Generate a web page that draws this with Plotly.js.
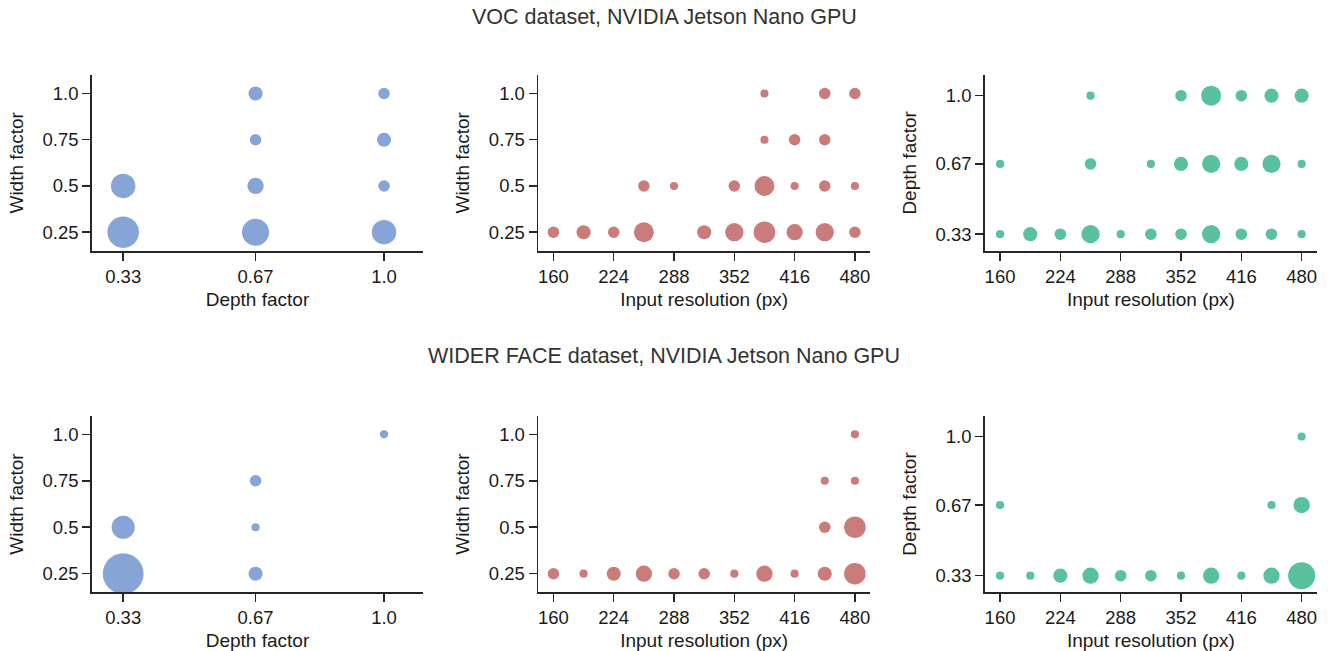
<!DOCTYPE html>
<html><head><meta charset="utf-8">
<script src="https://cdn.plot.ly/plotly-3.0.1.min.js"></script>
<style>html,body{margin:0;padding:0;background:#fff}</style>
</head><body><div id="chart" style="width:1328px;height:651px"></div>
<script>
// ---- tick labels ----
const depthTicks = [0.33, 0.67, 1.0];
const depthTickText = ['0.33', '0.67', '1.0'];
const widthTicks = [0.25, 0.5, 0.75, 1.0];
const widthTickText = ['0.25', '0.5', '0.75', '1.0'];
const resTicks = [160, 224, 288, 352, 416, 480];

const rowTitles = ['VOC dataset, NVIDIA Jetson Nano GPU', 'WIDER FACE dataset, NVIDIA Jetson Nano GPU'];

// ---- VOC: depth vs width ----
const vocDW_depth = [0.33, 0.33, 0.67, 0.67, 0.67, 0.67, 1.0, 1.0, 1.0, 1.0];
const vocDW_width = [0.25, 0.5, 0.25, 0.5, 0.75, 1.0, 0.25, 0.5, 0.75, 1.0];
const vocDW_count = [15, 9, 11, 4, 2, 3, 9, 2, 3, 2];

// ---- VOC: resolution vs width ----
const vocRW_res = [384, 448, 480, 384, 416, 448, 256, 288, 352, 384, 416, 448, 480, 160, 192, 224, 256, 320, 352, 384, 416, 448, 480];
const vocRW_width = [1.0, 1.0, 1.0, 0.75, 0.75, 0.75, 0.5, 0.5, 0.5, 0.5, 0.5, 0.5, 0.5, 0.25, 0.25, 0.25, 0.25, 0.25, 0.25, 0.25, 0.25, 0.25, 0.25];
const vocRW_count = [1, 2, 2, 1, 2, 2, 2, 1, 2, 6, 1, 2, 1, 2, 3, 2, 6, 3, 5, 7, 4, 5, 2];

// ---- VOC: resolution vs depth ----
const vocRD_res = [256, 352, 384, 416, 448, 480, 160, 256, 320, 352, 384, 416, 448, 480, 160, 192, 224, 256, 288, 320, 352, 384, 416, 448, 480];
const vocRD_depth = [1.0, 1.0, 1.0, 1.0, 1.0, 1.0, 0.67, 0.67, 0.67, 0.67, 0.67, 0.67, 0.67, 0.67, 0.33, 0.33, 0.33, 0.33, 0.33, 0.33, 0.33, 0.33, 0.33, 0.33, 0.33];
const vocRD_count = [1, 2, 6, 2, 3, 3, 1, 2, 1, 3, 5, 3, 5, 1, 1, 3, 2, 5, 1, 2, 2, 5, 2, 2, 1];

// ---- WIDER FACE: depth vs width ----
const wfDW_depth = [0.33, 0.33, 0.67, 0.67, 0.67, 1.0];
const wfDW_width = [0.25, 0.5, 0.25, 0.5, 0.75, 1.0];
const wfDW_count = [25, 8, 3, 1, 2, 1];

// ---- WIDER FACE: resolution vs width ----
const wfRW_res = [480, 448, 480, 448, 480, 160, 192, 224, 256, 288, 320, 352, 384, 416, 448, 480];
const wfRW_width = [1.0, 0.75, 0.75, 0.5, 0.5, 0.25, 0.25, 0.25, 0.25, 0.25, 0.25, 0.25, 0.25, 0.25, 0.25, 0.25];
const wfRW_count = [1, 1, 1, 2, 7, 2, 1, 3, 4, 2, 2, 1, 4, 1, 3, 7];

// ---- WIDER FACE: resolution vs depth ----
const wfRD_res = [480, 160, 448, 480, 160, 192, 224, 256, 288, 320, 352, 384, 416, 448, 480];
const wfRD_depth = [1.0, 0.67, 0.67, 0.67, 0.33, 0.33, 0.33, 0.33, 0.33, 0.33, 0.33, 0.33, 0.33, 0.33, 0.33];
const wfRD_count = [1, 1, 1, 4, 1, 1, 3, 4, 2, 2, 1, 4, 1, 4, 11];

// ---- styling ----
const BLUE = '#87a4d7', RED = '#c97c7a', GREEN = '#59c19b';
const K = 8.15; // px diameter per sqrt(count)
const FONT = 'Liberation Sans, Arial, Helvetica, sans-serif';

function trace(x, y, c, color, ax) {
  return {
    type: 'scatter', mode: 'markers', x: x, y: y, xaxis: ax[0], yaxis: ax[1],
    hoverinfo: 'x+y+text', text: c.map(v => 'count: ' + v),
    marker: { color: color, size: c.map(v => K * Math.sqrt(v)), sizemode: 'diameter', line: { width: 0 }, opacity: 1 },
    showlegend: false, cliponaxis: false
  };
}

const data = [
  trace(vocDW_depth, vocDW_width, vocDW_count, BLUE, ['x', 'y']),
  trace(vocRW_res, vocRW_width, vocRW_count, RED, ['x2', 'y2']),
  trace(vocRD_res, vocRD_depth, vocRD_count, GREEN, ['x3', 'y3']),
  trace(wfDW_depth, wfDW_width, wfDW_count, BLUE, ['x4', 'y4']),
  trace(wfRW_res, wfRW_width, wfRW_count, RED, ['x5', 'y5']),
  trace(wfRD_res, wfRD_depth, wfRD_count, GREEN, ['x6', 'y6'])
];

const xDom = [[0.0693, 0.3185], [0.4054, 0.6551], [0.7417, 0.9915]];
const yDom = [[0.6149, 0.8848], [0.0902, 0.3614]];

function axis(extra) {
  return Object.assign({
    showline: true, linecolor: '#262626', linewidth: 1.8, mirror: false,
    ticks: 'outside', ticklen: 8, tickwidth: 1.5, tickcolor: '#262626',
    showgrid: false, zeroline: false, fixedrange: true,
    tickfont: { family: FONT, size: 18.5, color: '#1a1a1a' }
  }, extra);
}
function xTitle(t) { return { text: t, font: { family: FONT, size: 19, color: '#1a1a1a' }, standoff: 7 }; }
function yTitle(t) { return { text: t, font: { family: FONT, size: 19, color: '#1a1a1a' }, standoff: 14 }; }

const layout = {
  width: 1328, height: 651,
  margin: { l: 0, r: 0, t: 0, b: 0 },
  paper_bgcolor: '#fff', plot_bgcolor: '#fff',
  font: { family: FONT },
  showlegend: false,
  annotations: [
    { text: rowTitles[0], xref: 'paper', yref: 'paper', x: 0.5, y: 1 - 17 / 651, xanchor: 'center', yanchor: 'middle', showarrow: false, font: { family: FONT, size: 21.5, color: '#333' } },
    { text: rowTitles[1], xref: 'paper', yref: 'paper', x: 0.5, y: 1 - 356 / 651, xanchor: 'center', yanchor: 'middle', showarrow: false, font: { family: FONT, size: 21.5, color: '#333' } }
  ]
};

const panels = [
  { xk: 'xaxis', yk: 'yaxis', xt: 'Depth factor', yt: 'Width factor', xKind: 'depth', yKind: 'width', col: 0, row: 0 },
  { xk: 'xaxis2', yk: 'yaxis2', xt: 'Input resolution (px)', yt: 'Width factor', xKind: 'res', yKind: 'width', col: 1, row: 0 },
  { xk: 'xaxis3', yk: 'yaxis3', xt: 'Input resolution (px)', yt: 'Depth factor', xKind: 'res', yKind: 'depth', col: 2, row: 0 },
  { xk: 'xaxis4', yk: 'yaxis4', xt: 'Depth factor', yt: 'Width factor', xKind: 'depth', yKind: 'width', col: 0, row: 1 },
  { xk: 'xaxis5', yk: 'yaxis5', xt: 'Input resolution (px)', yt: 'Width factor', xKind: 'res', yKind: 'width', col: 1, row: 1 },
  { xk: 'xaxis6', yk: 'yaxis6', xt: 'Input resolution (px)', yt: 'Depth factor', xKind: 'res', yKind: 'depth', col: 2, row: 1 }
];

panels.forEach((p, i) => {
  const n = i + 1;
  const xa = n === 1 ? 'x' : 'x' + n;
  const ya = n === 1 ? 'y' : 'y' + n;
  let xs;
  if (p.xKind === 'depth') xs = { range: [0.25, 1.1], tickmode: 'array', tickvals: depthTicks, ticktext: depthTickText };
  else xs = { range: [144, 496], tickmode: 'array', tickvals: resTicks, ticktext: resTicks.map(String) };
  let ys;
  if (p.yKind === 'width') ys = { range: [0.15, 1.1], tickmode: 'array', tickvals: widthTicks, ticktext: widthTickText };
  else ys = { range: [0.25, 1.1], tickmode: 'array', tickvals: depthTicks, ticktext: depthTickText };
  layout[p.xk] = axis(Object.assign(xs, { domain: xDom[p.col], anchor: ya, title: xTitle(p.xt) }));
  layout[p.yk] = axis(Object.assign(ys, { domain: yDom[p.row], anchor: xa, title: yTitle(p.yt) }));
});

Plotly.newPlot('chart', data, layout, { displayModeBar: false, staticPlot: true });
</script>
</body></html>
